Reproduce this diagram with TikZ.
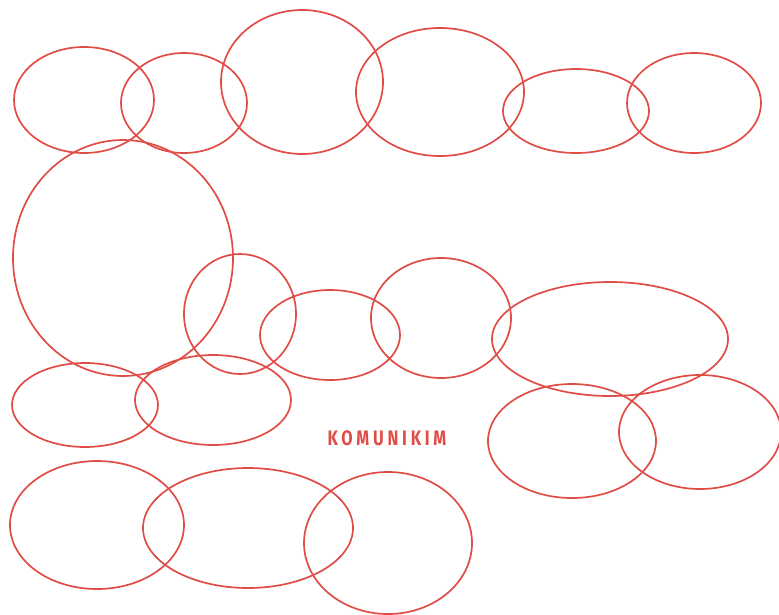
\documentclass[tikz,border=0pt]{standalone}
\usepackage{fontspec}
\setsansfont{Fira Sans}
\definecolor{komRed}{RGB}{224,76,70}
\usepackage{tikz}
\usetikzlibrary{positioning}

\begin{document}
\begin{tikzpicture}[
    x=1pt, y=-1pt,
    bubble/.style={draw=komRed, line width=1.7pt},
    title/.style={font=\sffamily\bfseries\addfontfeatures{LetterSpace=18,FakeStretch=0.78}\fontsize{21}{21}\selectfont,
                  text=komRed, inner sep=0pt}
  ]
  \useasboundingbox (0,0) rectangle (779,614);

  % top row
  \draw[bubble] (84,100)  ellipse [x radius=70, y radius=53];
  \draw[bubble] (184,103) ellipse [x radius=63, y radius=50];
  \draw[bubble] (302,82)  ellipse [x radius=81, y radius=72];
  \draw[bubble] (440,92)  ellipse [x radius=84, y radius=64];
  \draw[bubble] (576,111) ellipse [x radius=73, y radius=42];
  \draw[bubble] (694,103) ellipse [x radius=67, y radius=50];

  % middle
  \draw[bubble] (123,258) ellipse [x radius=110, y radius=118];
  \draw[bubble] (240,314) ellipse [x radius=56, y radius=60];
  \draw[bubble] (330,335) ellipse [x radius=70, y radius=45];
  \draw[bubble] (441,318) ellipse [x radius=70, y radius=60];
  \draw[bubble] (610,339) ellipse [x radius=118, y radius=57];
  \draw[bubble] (85,405)  ellipse [x radius=73, y radius=42];
  \draw[bubble] (213,400) ellipse [x radius=78, y radius=45];
  \draw[bubble] (572,441) ellipse [x radius=84, y radius=57];
  \draw[bubble] (700,432) ellipse [x radius=81, y radius=57];

  % bottom row
  \draw[bubble] (97,525)  ellipse [x radius=87, y radius=64];
  \draw[bubble] (248,528) ellipse [x radius=105, y radius=60];
  \draw[bubble] (388,543) ellipse [x radius=84, y radius=71];

  % label
  \node[title] (label) at (387,438) {KOMUNIKIM};
\end{tikzpicture}
\end{document}
